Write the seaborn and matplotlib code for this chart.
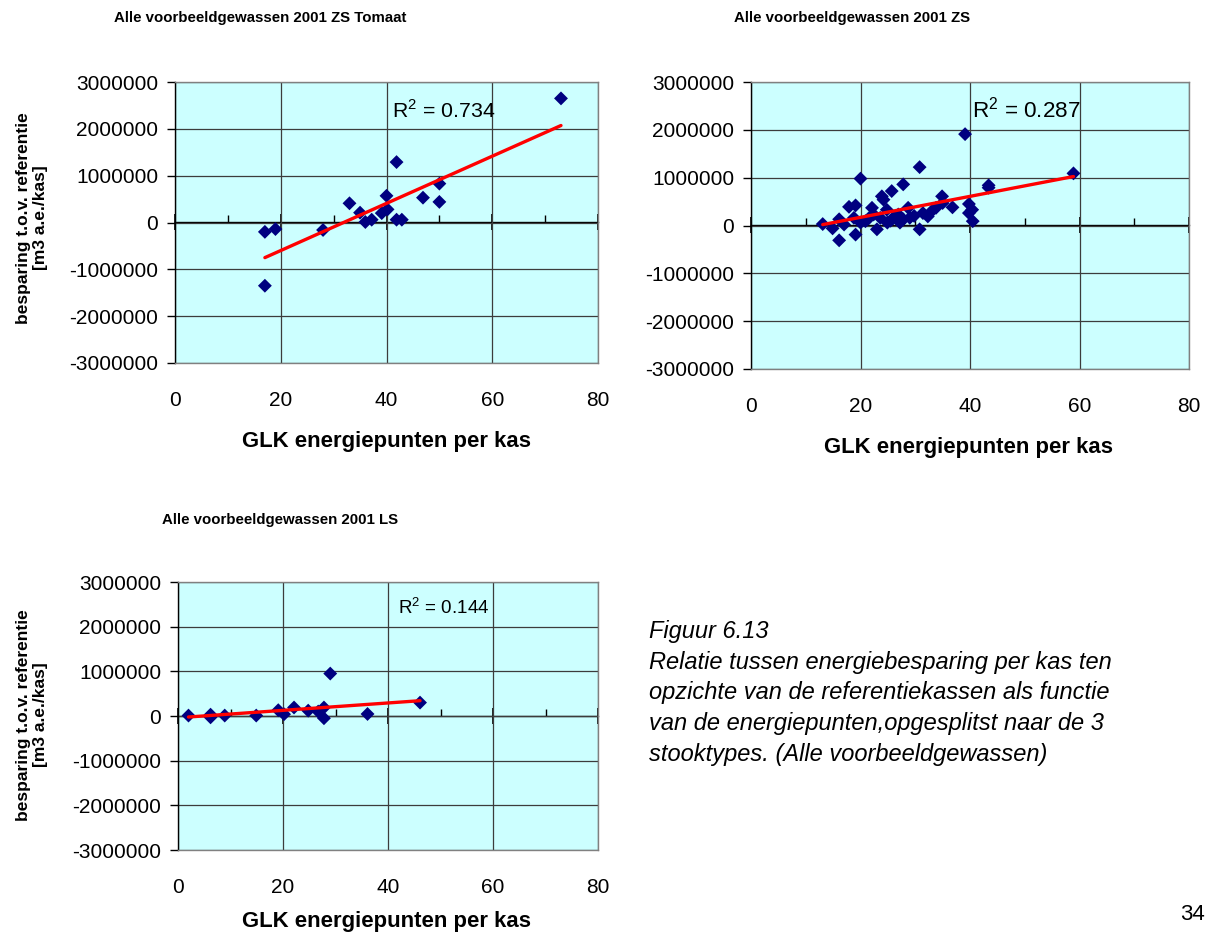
import matplotlib
matplotlib.use("Agg")
import matplotlib.pyplot as plt
from matplotlib.ticker import FuncFormatter, MultipleLocator
import seaborn as sns

sns.set_style("white")
plt.rcParams["font.family"] = ["Liberation Sans", "DejaVu Sans"]
plt.rcParams["mathtext.fontset"] = "custom"
plt.rcParams["mathtext.rm"] = "Liberation Sans"
for key in ["text.color", "axes.labelcolor", "xtick.color", "ytick.color"]:
    plt.rcParams[key] = "black"

# GLK energy points per greenhouse vs. saving relative to reference (m3 a.e./kas)
tomaat_x = [17, 17, 19, 28, 33, 35, 36.0, 37.2, 39.1, 40.0, 40.2, 41.9, 41.9, 42.9,
            46.9, 50, 50, 73]
tomaat_y = [-200000, -1350000, -140000, -160000, 410000, 210000, 10000, 60000,
            200000, 570000, 280000, 1290000, 60000, 60000, 530000, 830000,
            440000, 2650000]

zs_x = [13.1, 14.9, 16.1, 16.1, 17.0, 17.9, 19.1, 19.1, 18.8, 20.0, 20.0, 20.9,
        22.1, 22.4, 23.0, 23.9, 24.2, 23.6, 24.8, 24.9, 25.7, 26.0, 26.9, 27.8,
        27.8, 28.7, 29.0, 30.8, 30.8, 31.4, 32.3, 33.8, 34.9, 35.0, 36.8, 39.1,
        39.8, 40.4, 39.8, 40.5, 43.4, 43.4, 58.9, 25.5, 27.2, 29.8, 21.5, 33.0]
zs_y = [30000, -60000, -310000, 130000, 20000, 390000, 420000, -190000, 160000,
        980000, 60000, 90000, 370000, 230000, -80000, 610000, 540000, 160000,
        330000, 60000, 720000, 160000, 230000, 860000, 130000, 370000, 160000,
        1220000, -80000, 260000, 190000, 370000, 610000, 470000, 380000,
        1910000, 450000, 330000, 260000, 90000, 840000, 790000, 1090000,
        100000, 60000, 200000, 150000, 300000]

ls_x = [2, 6.2, 6.2, 8.9, 14.9, 19.1, 20.2, 22.1, 24.8, 26.7, 27.8, 27.8, 29,
        36.1, 46.1]
ls_y = [10000, 30000, -30000, 10000, 10000, 130000, 40000, 190000, 120000,
        100000, 190000, -50000, 950000, 45000, 300000]

titles = ["Alle voorbeeldgewassen 2001 ZS Tomaat",
          "Alle voorbeeldgewassen 2001 ZS",
          "Alle voorbeeldgewassen 2001 LS"]
r2_labels = ["0.734", "0.287", "0.144"]
x_ticks = [0, 20, 40, 60, 80]
y_ticks = [-3000000, -2000000, -1000000, 0, 1000000, 2000000, 3000000]
x_label = "GLK energiepunten per kas"
y_label = "besparing t.o.v. referentie\n[m3 a.e./kas]"

W, H = 1212, 935
fig = plt.figure(figsize=(W / 100, H / 100), dpi=100)


def px_axes(left, top, right, bottom):
    return fig.add_axes([left / W, 1 - bottom / H, (right - left) / W, (bottom - top) / H])


def style(ax):
    ax.set_facecolor("#CCFFFF")
    ax.set_xlim(0, 80)
    ax.set_ylim(-3000000, 3000000)
    ax.set_xticks(x_ticks)
    ax.set_yticks(y_ticks)
    ax.yaxis.set_major_formatter(FuncFormatter(lambda v, p: f"{int(round(v))}"))
    ax.set_axisbelow(True)
    ax.grid(True, color="#3c3c3c", lw=0.9)
    ax.tick_params(axis="x", length=0, pad=20, labelsize=15)
    ax.tick_params(axis="y", direction="out", length=6, width=1, pad=6,
                   labelsize=15, left=True)
    for side in ["top", "right", "bottom"]:
        ax.spines[side].set_color("#808080")
        ax.spines[side].set_linewidth(1)
    ax.spines["left"].set_color("black")
    ax.spines["left"].set_linewidth(1)
    # zero line acting as the category axis, with crossing and minor ticks
    sec = ax.secondary_xaxis(0.5)
    sec.set_xticks(x_ticks)
    sec.xaxis.set_minor_locator(MultipleLocator(10))
    sec.tick_params(which="major", direction="inout", length=11, width=1.2,
                    labeltop=False, labelbottom=False, color="black")
    sec.tick_params(which="minor", direction="out", length=5, width=1,
                    labeltop=False, labelbottom=False, color="black")
    for s in sec.spines.values():
        s.set_color("black")
        s.set_linewidth(1.0)


def draw(ax, x, y, r2, r2_pos, r2_size):
    style(ax)
    sns.regplot(x=x, y=y, ax=ax, scatter=False, ci=None, truncate=True,
                line_kws=dict(color="#FF0000", lw=2.4, zorder=4))
    sns.scatterplot(x=x, y=y, ax=ax, marker="D", s=50, color="#000080",
                    edgecolor="none", linewidth=0, zorder=3)
    ax.set_xlabel("")
    ax.set_ylabel("")
    ax.text(r2_pos[0], r2_pos[1], r"R$^{\mathrm{2}}$ = " + r2, transform=ax.transAxes,
            fontsize=r2_size, ha="left", va="center", color="black", zorder=5)


ax1 = px_axes(175, 82, 598, 363)
ax2 = px_axes(751, 82, 1189, 369)
ax3 = px_axes(178, 582, 598, 850)

draw(ax1, tomaat_x, tomaat_y, r2_labels[0], (0.513, 0.90), 15.3)
draw(ax2, zs_x, zs_y, r2_labels[1], (0.505, 0.905), 16.2)
draw(ax3, ls_x, ls_y, r2_labels[2], (0.524, 0.905), 13.5)

# chart titles
fig.text(260 / W, 1 - 18 / H, titles[0], fontsize=10.8, fontweight="bold",
         ha="center", va="center")
fig.text(852 / W, 1 - 18 / H, titles[1], fontsize=10.8, fontweight="bold",
         ha="center", va="center")
fig.text(280 / W, 1 - 520 / H, titles[2], fontsize=10.8, fontweight="bold",
         ha="center", va="center")

# axis titles
fig.text(386 / W, 1 - 442 / H, x_label, fontsize=15.9, fontweight="bold",
         ha="center", va="center")
fig.text(969 / W, 1 - 448 / H, x_label, fontsize=15.9, fontweight="bold",
         ha="center", va="center")
fig.text(387 / W, 1 - 921 / H, x_label, fontsize=15.9, fontweight="bold",
         ha="center", va="center")
fig.text(32 / W, 1 - 218 / H, y_label, fontsize=12.5, fontweight="bold",
         ha="center", va="center", rotation=90, multialignment="center",
         linespacing=1.1)
fig.text(32 / W, 1 - 715 / H, y_label, fontsize=12.5, fontweight="bold",
         ha="center", va="center", rotation=90, multialignment="center",
         linespacing=1.1)

caption = ("Figuur 6.13\n"
           "Relatie tussen energiebesparing per kas ten\n"
           "opzichte van de referentiekassen als functie\n"
           "van de energiepunten,opgesplitst naar de 3\n"
           "stooktypes. (Alle voorbeeldgewassen)")
fig.text(649 / W, 1 - 620 / H, caption, fontsize=17, fontstyle="italic",
         ha="left", va="top", linespacing=1.43)
fig.text(1192 / W, 1 - 915 / H, "34", fontsize=16, ha="center", va="center")

fig.savefig("out.png", dpi=100)
